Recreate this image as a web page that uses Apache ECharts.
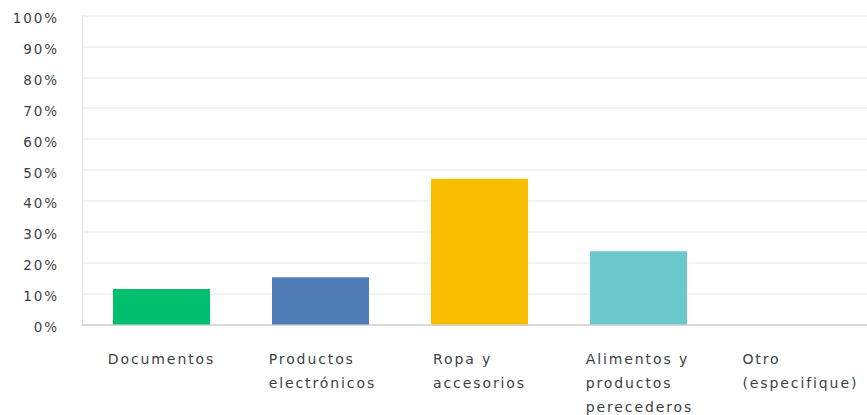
<!DOCTYPE html>
<html>
<head>
<meta charset="utf-8">
<script src="https://cdn.jsdelivr.net/npm/echarts@6/dist/echarts.min.js"></script>
<style>
html,body{margin:0;padding:0;background:#fff;overflow:hidden;width:867px;height:415px}
#c{width:877px;height:415px}
#c text{letter-spacing:1.9px}
</style>
</head>
<body>
<div id="c"></div>
<script>
const categories = ["Documentos", "Productos\nelectrónicos", "Ropa y\naccesorios", "Alimentos y\nproductos\nperecederos", "Otro\n(especifique)"];
const values = [11.5, 15.3, 47.2, 23.7, 0];
const colors = ["#00bf6f", "#507cb6", "#f9be00", "#6bc8cd", "#a7a8ad"];
const yTicks = [0, 10, 20, 30, 40, 50, 60, 70, 80, 90, 100];

const chart = echarts.init(document.getElementById('c'), null, {renderer: 'svg'});
chart.setOption({
  animation: false,
  grid: {left: 82, top: 15.5, right: 0, height: 309, containLabel: false},
  xAxis: {
    type: 'category',
    data: categories,
    axisLine: {lineStyle: {color: '#d9d9d9', width: 2}},
    axisTick: {show: false},
    axisLabel: {
      margin: 22,
      interval: 0,
      padding: [0, 19, 0, 0],
      color: '#3b3f44',
      fontFamily: 'DejaVu Sans',
      fontSize: 14,
      formatter: function (v) { return v.split('\n').map(function (s) { return '{a|' + s + '}'; }).join('\n'); },
      rich: {a: {align: 'left', fontFamily: 'DejaVu Sans', fontSize: 14, lineHeight: 24, color: '#3b3f44'}}
    }
  },
  yAxis: {
    type: 'value',
    min: yTicks[0],
    max: yTicks[yTicks.length - 1],
    interval: 10,
    axisLine: {show: true, lineStyle: {color: '#e0e0e0', width: 1}},
    axisTick: {show: false},
    splitLine: {lineStyle: {color: '#efefef', width: 1.5}},
    axisLabel: {
      margin: 23,
      color: '#3b3f44',
      fontFamily: 'DejaVu Sans',
      fontSize: 13.5,
      formatter: function (v) { return '{b|' + v + '%}'; },
      rich: {b: {fontFamily: 'DejaVu Sans', fontSize: 13.5, color: '#3b3f44', lineHeight: 16, padding: [5, 0, 0, 0]}}
    }
  },
  series: [{
    type: 'bar',
    barWidth: 97,
    data: values.map(function (v, i) {
      return {value: v, itemStyle: {color: colors[i]}};
    })
  }]
});
</script>
</body>
</html>
